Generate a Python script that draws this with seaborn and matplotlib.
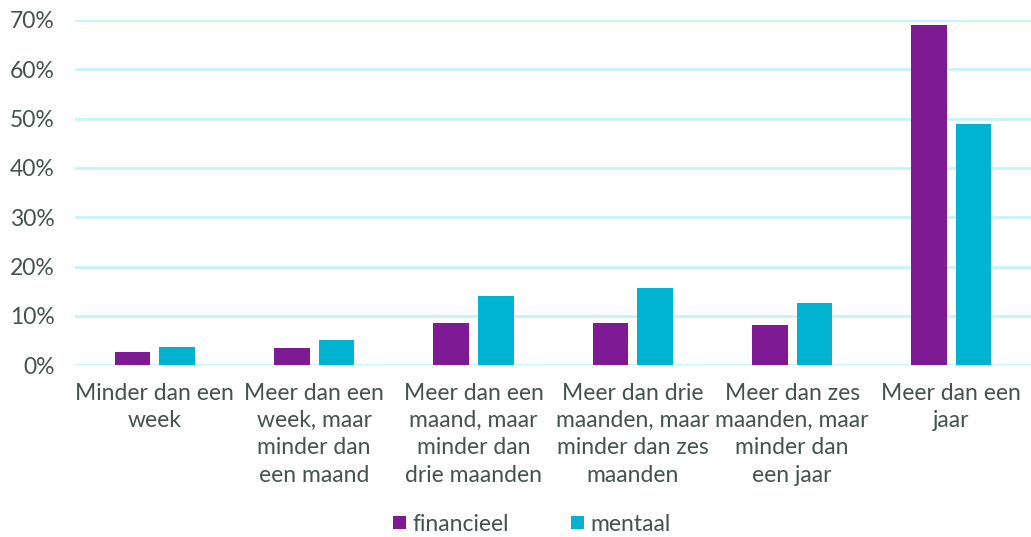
import matplotlib
matplotlib.use("Agg")
import matplotlib.pyplot as plt
import seaborn as sns
import pandas as pd
from matplotlib.ticker import FuncFormatter, MultipleLocator
from matplotlib.patches import Patch

categories = [
    "Minder dan een\nweek",
    "Meer dan een\nweek, maar\nminder dan\neen maand",
    "Meer dan een\nmaand, maar\nminder dan\ndrie maanden",
    "Meer dan drie\nmaanden, maar\nminder dan zes\nmaanden",
    "Meer dan zes\nmaanden, maar\nminder dan\neen jaar",
    "Meer dan een\njaar",
]
series_names = ["financieel", "mentaal"]
financieel = [2.7, 3.5, 8.5, 8.5, 8.1, 68.9]
mentaal = [3.7, 5.2, 14.0, 15.6, 12.7, 48.9]
colors = ["#7F1A95", "#00B3D0"]

df = pd.DataFrame({
    "cat": categories * 2,
    "serie": [series_names[0]] * 6 + [series_names[1]] * 6,
    "val": financieel + mentaal,
})

sns.set_theme(style="white")
plt.rcParams["font.family"] = ["Lato", "DejaVu Sans"]
text_color = "#45524F"
fs = 16.5

fig = plt.figure(figsize=(10.31, 5.37), dpi=100)
ax = fig.add_axes([0.073, 0.320, 0.927, 0.643])

sns.barplot(data=df, x="cat", y="val", hue="serie", palette=colors,
            width=0.56, gap=0.2, ax=ax, legend=False, saturation=1,
            edgecolor="none", order=categories, hue_order=series_names)

ax.set_ylim(0, 70)
ax.yaxis.set_major_locator(MultipleLocator(10))
ax.yaxis.set_major_formatter(FuncFormatter(lambda v, p: f"{int(round(v))}%"))
ax.grid(axis="y", color="#C8F2FB", linewidth=2)
ax.set_axisbelow(True)
for s in ax.spines.values():
    s.set_visible(False)
ax.set_xlabel("")
ax.set_ylabel("")
ax.tick_params(axis="both", length=0, labelsize=fs, colors=text_color)
ax.tick_params(axis="y", pad=15)
ax.tick_params(axis="x", pad=13)
for lbl in ax.get_xticklabels():
    lbl.set_linespacing(1.36)
ax.set_xlim(-0.5, 5.5)

handles = [Patch(facecolor=c, edgecolor="none") for c in colors]
fig.legend(handles, series_names, loc="center", bbox_to_anchor=(0.516, 0.024),
           ncol=2, frameon=False, fontsize=fs, labelcolor=text_color,
           handlelength=0.55, handleheight=0.55, handletextpad=0.3,
           columnspacing=2.7)

fig.savefig("out.png", dpi=100)
